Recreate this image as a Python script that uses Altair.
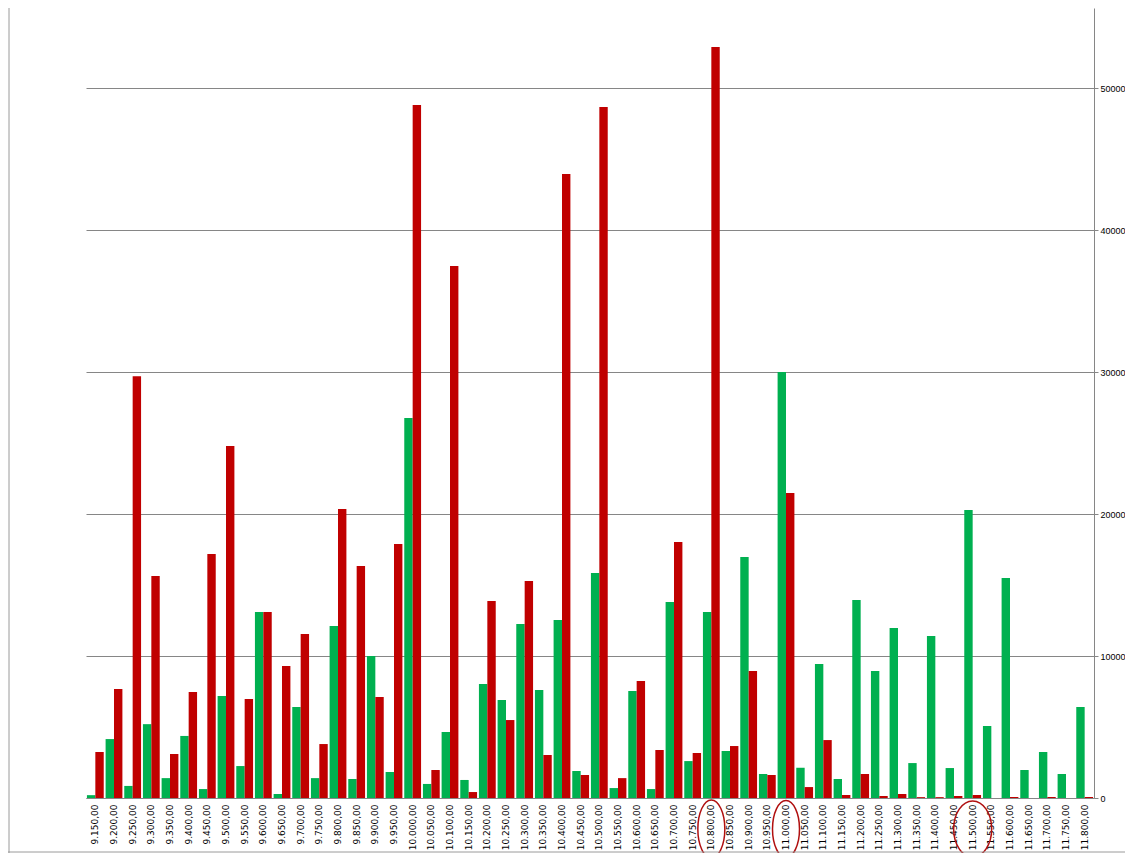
import altair as alt
import pandas as pd

labels = ["9.150,00","9.200,00","9.250,00","9.300,00","9.350,00","9.400,00","9.450,00","9.500,00","9.550,00","9.600,00",
          "9.650,00","9.700,00","9.750,00","9.800,00","9.850,00","9.900,00","9.950,00","10.000,00","10.050,00","10.100,00",
          "10.150,00","10.200,00","10.250,00","10.300,00","10.350,00","10.400,00","10.450,00","10.500,00","10.550,00","10.600,00",
          "10.650,00","10.700,00","10.750,00","10.800,00","10.850,00","10.900,00","10.950,00","11.000,00","11.050,00","11.100,00",
          "11.150,00","11.200,00","11.250,00","11.300,00","11.350,00","11.400,00","11.450,00","11.500,00","11.550,00","11.600,00",
          "11.650,00","11.700,00","11.750,00","11.800,00"]

green = [200, 4150, 850, 5200, 1400, 4370, 630, 7180, 2250, 13100,
         280, 6400, 1400, 12110, 1340, 10000, 1830, 26760, 990, 4650,
         1270, 8030, 6900, 12250, 7600, 12530, 1900, 15850, 700, 7540,
         630, 13800, 2600, 13100, 3310, 16970, 1690, 30000, 2130, 9440,
         1340, 13940, 8940, 11970, 2460, 11410, 2110, 20280, 5070, 15490,
         1970, 3240, 1690, 6410]

red = [3240, 7680, 29700, 15630, 3100, 7460, 17180, 24790, 6970, 13100,
       9300, 11550, 3800, 20350, 16340, 7110, 17890, 48800, 1970, 37460,
       420, 13870, 5490, 15280, 3030, 43940, 1620, 48660, 1400, 8240,
       3380, 18030, 3170, 52890, 3660, 8940, 1620, 21480, 770, 4080,
       210, 1690, 140, 280, 60, 60, 140, 210, 0, 70,
       0, 70, 0, 70]

y_ticks = [0, 10000, 20000, 30000, 40000, 50000]

# circled strike labels (annotation)
circled = ["10.800,00", "11.000,00", "11.500,00"]
circle_w = [27, 27, 38]
circle_h = [58, 57, 56]

rows = []
for i, c in enumerate(labels):
    rows.append({"cat": c, "series": "S1", "value": green[i]})
    rows.append({"cat": c, "series": "S2", "value": red[i]})
df = pd.DataFrame(rows)

ell = pd.DataFrame({
    "cat": circled,
    "shape": [f"M{-w/2},0A{w/2},{h/2},0,1,1,{w/2},0A{w/2},{h/2},0,1,1,{-w/2},0Z"
              for w, h in zip(circle_w, circle_h)],
})

W, H = 1008, 790
YMAX = 55634

xscale = alt.Scale(domain=labels, paddingInner=0.1, paddingOuter=0.05)

bars = alt.Chart(df).mark_bar().encode(
    x=alt.X("cat:N", sort=labels, scale=xscale,
            axis=alt.Axis(title=None, labelAngle=-90, labelFont="DejaVu Sans", labelFontSize=9,
                          labelColor="#000000", ticks=False, domainColor="#868686",
                          labelPadding=6, labelBaseline="middle", labelAlign="right")),
    xOffset=alt.XOffset("series:N", scale=alt.Scale(paddingInner=0, paddingOuter=0)),
    y=alt.Y("value:Q", scale=alt.Scale(domain=[0, YMAX], nice=False, zero=True),
            axis=alt.Axis(title=None, orient="right", values=y_ticks, format="d",
                          grid=True, gridColor="#868686", gridOpacity=1, gridWidth=1,
                          domainColor="#868686", tickColor="#868686", tickSize=4,
                          labelPadding=2, labelFont="Liberation Sans", labelFontSize=9,
                          labelColor="#000000")),
    color=alt.Color("series:N", scale=alt.Scale(domain=["S1", "S2"], range=["#00B050", "#C00000"]),
                    legend=None),
)

ellipses = alt.Chart(ell).mark_point(filled=False, color="#B01010", strokeWidth=1.5, opacity=1).encode(
    x=alt.X("cat:N", sort=labels, scale=xscale),
    y=alt.value(821),
    shape=alt.Shape("shape:N", scale=None),
    size=alt.value(4),
)

frame_left = alt.Chart(pd.DataFrame({"a": [0]})).mark_rule(color="#9a9a9a", strokeWidth=1).encode(
    x=alt.value(-77), y=alt.value(-8), y2=alt.value(845))
frame_bottom = alt.Chart(pd.DataFrame({"a": [0]})).mark_rule(color="#9a9a9a", strokeWidth=1).encode(
    x=alt.value(-78), x2=alt.value(1040), y=alt.value(844))

chart = alt.layer(bars, ellipses, frame_left, frame_bottom).properties(
    width=W, height=H,
    autosize=alt.AutoSizeParams(type="none"),
    padding={"left": 78, "top": 0, "right": 31, "bottom": 55},
).configure_view(stroke=None).configure_axis(labelOverlap=False)

chart.save("out.html", embed_options={"renderer": "svg", "actions": False})
